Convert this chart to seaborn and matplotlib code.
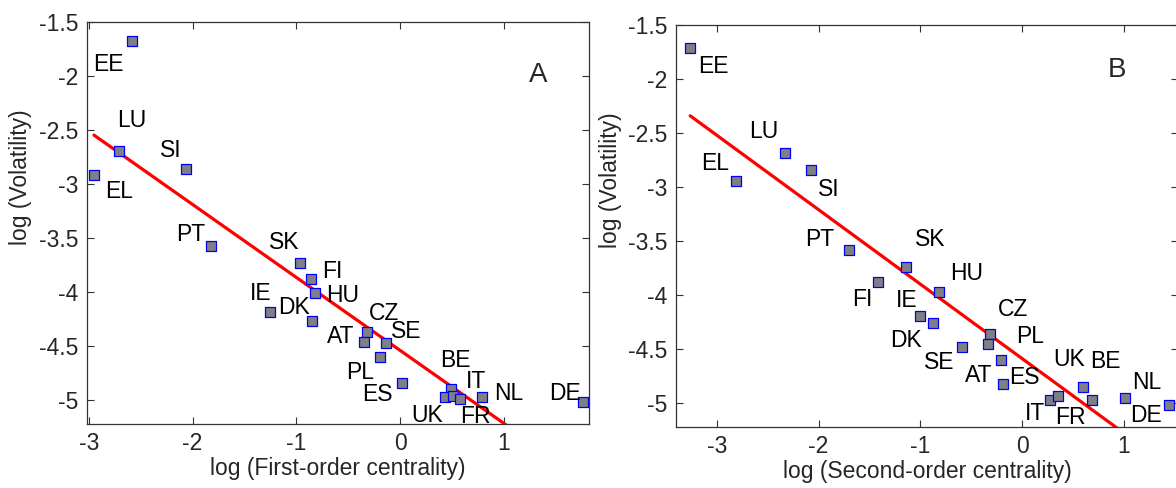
import numpy as np
import pandas as pd
import matplotlib
matplotlib.use("Agg")
import matplotlib.pyplot as plt
import seaborn as sns

# ----------------------
# Data
# ----------------------
countries_a = ["EE", "LU", "EL", "SI", "PT", "SK", "FI", "HU", "IE", "DK", "CZ",
               "AT", "SE", "PL", "ES", "BE", "UK", "IT", "FR", "NL", "DE"]
first_order = [-2.58, -2.71, -2.95, -2.06, -1.82, -0.96, -0.86, -0.82, -1.25, -0.85, -0.32,
               -0.35, -0.14, -0.19, 0.02, 0.49, 0.43, 0.51, 0.58, 0.79, 1.76]
volatility_a = [-1.68, -2.69, -2.92, -2.86, -3.57, -3.73, -3.88, -4.01, -4.18, -4.27, -4.37,
                -4.46, -4.47, -4.60, -4.84, -4.90, -4.97, -4.96, -4.99, -4.97, -5.02]

countries_b = ["EE", "EL", "LU", "SI", "PT", "SK", "FI", "HU", "IE", "DK", "SE",
               "CZ", "PL", "AT", "ES", "IT", "FR", "UK", "BE", "NL", "DE"]
second_order = [-3.26, -2.81, -2.33, -2.07, -1.70, -1.14, -1.42, -0.82, -1.00, -0.88, -0.59,
                -0.32, -0.34, -0.21, -0.19, 0.27, 0.35, 0.60, 0.69, 1.01, 1.44]
volatility_b = [-1.71, -2.94, -2.68, -2.84, -3.58, -3.74, -3.88, -3.97, -4.19, -4.26, -4.48,
                -4.36, -4.45, -4.60, -4.82, -4.97, -4.93, -4.85, -4.97, -4.95, -5.02]

x_ticks = [-3, -2, -1, 0, 1]
y_ticks = [-5, -4.5, -4, -3.5, -3, -2.5, -2, -1.5]
y_ticklabels = ["-5", "-4.5", "-4", "-3.5", "-3", "-2.5", "-2", "-1.5"]

# label offsets in pixels (dx right, dy down) from each marker
offsets_a = {"EE": (-24, 23), "LU": (13, -30), "EL": (25, 16), "SI": (-15, -18),
             "PT": (-21, -11), "SK": (-16, -21), "FI": (21, -8), "HU": (28, 2),
             "IE": (-10, -18), "DK": (-18, -14), "CZ": (17, -19), "AT": (-23, -5),
             "SE": (21, -11), "PL": (-20, 15), "ES": (-25, 12), "BE": (4, -29),
             "UK": (-18, 18), "IT": (23, -14), "FR": (15, 17), "NL": (27, -4),
             "DE": (-18, -9)}
offsets_b = {"EE": (23, 19), "EL": (-21, -17), "LU": (-21, -21), "SI": (17, 20),
             "PT": (-29, -10), "SK": (24, -28), "FI": (-15, 17), "HU": (28, -18),
             "IE": (-14, -15), "DK": (-27, 17), "SE": (-23, 15), "CZ": (23, -25),
             "PL": (43, -7), "AT": (-22, 16), "ES": (22, -6), "IT": (-15, 14),
             "FR": (13, 22), "UK": (-14, -28), "BE": (13, -38), "NL": (22, -15),
             "DE": (-23, 10)}

df_a = pd.DataFrame({"country": countries_a, "x": first_order, "y": volatility_a})
df_b = pd.DataFrame({"country": countries_b, "x": second_order, "y": volatility_b})

sns.set_style("ticks")
plt.rcParams["font.family"] = ["Liberation Sans", "DejaVu Sans"]
plt.rcParams["font.size"] = 16.5

fig = plt.figure(figsize=(11.76, 4.88), dpi=100)
ax_a = fig.add_axes([0.0737, 0.1311, 0.4271, 0.8238])
ax_b = fig.add_axes([0.5748, 0.1250, 0.4269, 0.8238])


def draw_panel(ax, df, offsets, xlabel, letter, xlim, letter_pos):
    # fitted line (OLS) over the data range
    sns.regplot(data=df, x="x", y="y", ax=ax, scatter=False, ci=None,
                truncate=True, line_kws={"color": "#ff0000", "lw": 2.3})
    sns.scatterplot(data=df, x="x", y="y", ax=ax, marker="s", s=55,
                    color="#808080", edgecolor="#0000ff", linewidth=0.9, zorder=3)
    for _, row in df.iterrows():
        dx, dy = offsets[row["country"]]
        ax.annotate(row["country"], (row["x"], row["y"]), xytext=(dx, -dy),
                    textcoords="offset pixels", ha="center", va="center",
                    fontsize=16.5, color="black")
    ax.set_xlim(*xlim)
    ax.set_ylim(-5.22, -1.5)
    ax.set_xticks(x_ticks)
    ax.set_xticklabels([str(t) for t in x_ticks])
    ax.set_yticks(y_ticks)
    ax.set_yticklabels(y_ticklabels)
    ax.tick_params(direction="in", length=5, width=0.8, top=True, right=True,
                   labelsize=16.5, pad=6, color="#333333")
    for sp in ax.spines.values():
        sp.set_visible(True)
        sp.set_linewidth(0.9)
        sp.set_color("#333333")
    ax.set_xlabel(xlabel, fontsize=16.5, labelpad=1)
    ax.set_ylabel("log (Volatility)", fontsize=16.5)
    ax.yaxis.set_label_coords(-0.108, 0.615)
    ax.text(letter_pos[0], letter_pos[1], letter, transform=ax.transAxes,
            ha="center", va="center", fontsize=20)


draw_panel(ax_a, df_a, offsets_a, "log (First-order centrality)", "A",
           (-3.02, 1.82), (0.898, 0.868))
draw_panel(ax_b, df_b, offsets_b, "log (Second-order centrality)", "B",
           (-3.40, 1.53), (0.878, 0.888))

fig.savefig("out.png", dpi=100)
